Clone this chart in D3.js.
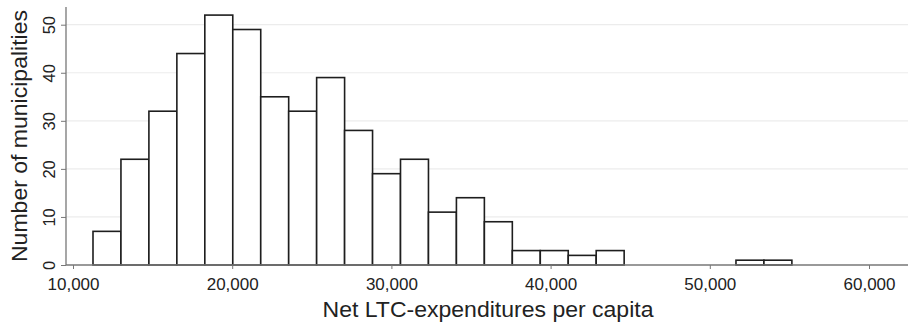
<!DOCTYPE html>
<html>
<head>
<meta charset="utf-8">
<script src="https://cdn.jsdelivr.net/npm/d3@7/dist/d3.min.js"></script>
<style>
  html, body { margin: 0; padding: 0; background: #fff; }
  svg { display: block; font-family: "Liberation Sans", Arial, Helvetica, sans-serif; }
</style>
</head>
<body>
<svg id="chart" width="908" height="326"></svg>
<script>
// ---- data ----
const binStart = 11256;     // lower edge of first bin (NOK per capita)
const binWidth = 1756;      // bin width
const counts = [7, 22, 32, 44, 52, 49, 35, 32, 39, 28, 19, 22, 11, 14, 9, 3, 3, 2, 3, 0, 0, 0, 0, 1, 1];
const xTicks = [10000, 20000, 30000, 40000, 50000, 60000];
const yTicks = [0, 10, 20, 30, 40, 50];
const xTitle = "Net LTC-expenditures per capita";
const yTitle = "Number of municipalities";

// ---- layout ----
const svg = d3.select("#chart");
const x = d3.scaleLinear().domain([10000, 60000]).range([73, 869]);
const y = d3.scaleLinear().domain([0, 50]).range([265, 24.7]);
const plotLeft = 66, plotRight = 908;

const bins = counts.map((c, i) => ({ x0: binStart + i * binWidth, x1: binStart + (i + 1) * binWidth, n: c }));

// gridlines
svg.append("g").selectAll("line").data(yTicks.filter(d => d > 0)).join("line")
  .attr("x1", plotLeft).attr("x2", plotRight)
  .attr("y1", d => y(d)).attr("y2", d => y(d))
  .attr("stroke", "#ececec").attr("stroke-width", 1.2);

// bars
svg.append("g").selectAll("rect").data(bins.filter(b => b.n > 0)).join("rect")
  .attr("x", b => x(b.x0))
  .attr("y", b => y(b.n))
  .attr("width", b => x(b.x1) - x(b.x0))
  .attr("height", b => y(0) - y(b.n))
  .attr("fill", "#fff")
  .attr("stroke", "#1e1e1e")
  .attr("stroke-width", 1.6);

// x axis
const xAxis = d3.axisBottom(x).tickValues(xTicks).tickSize(4).tickSizeOuter(0)
  .tickFormat(d3.format(","));
const gx = svg.append("g").attr("transform", `translate(0,${y(0)})`).call(xAxis);
gx.select(".domain").remove();
gx.selectAll(".tick line").attr("stroke", "#777");
gx.selectAll(".tick text").attr("font-size", 17).attr("fill", "#222")
  .attr("font-family", "Liberation Sans, Arial, sans-serif").attr("dy", "1.05em");
svg.append("line").attr("x1", plotLeft).attr("x2", plotRight)
  .attr("y1", y(0)).attr("y2", y(0)).attr("stroke", "#777").attr("stroke-width", 1.3);

// y axis
const yAxis = d3.axisLeft(y).tickValues(yTicks).tickSize(5).tickSizeOuter(0);
const gy = svg.append("g").attr("transform", `translate(${plotLeft},0)`).call(yAxis);
gy.select(".domain").remove();
gy.selectAll(".tick line").attr("stroke", "#777");
gy.selectAll(".tick text")
  .attr("font-size", 16.5).attr("fill", "#222")
  .attr("font-family", "Liberation Sans, Arial, sans-serif")
  .attr("x", null).attr("dy", null)
  .attr("text-anchor", "middle")
  .attr("transform", "translate(-11,0) rotate(-90)");
svg.append("line").attr("x1", plotLeft).attr("x2", plotLeft)
  .attr("y1", y(0)).attr("y2", y(53.7)).attr("stroke", "#777").attr("stroke-width", 1.3);

// titles
svg.append("text").attr("x", 488).attr("y", 317)
  .attr("text-anchor", "middle").attr("font-size", 21.5).attr("fill", "#222")
  .attr("textLength", 331).attr("lengthAdjust", "spacingAndGlyphs")
  .text(xTitle);
svg.append("text").attr("transform", "translate(27,136) rotate(-90)")
  .attr("text-anchor", "middle").attr("font-size", 21.5).attr("fill", "#222")
  .attr("textLength", 252).attr("lengthAdjust", "spacingAndGlyphs")
  .text(yTitle);
</script>
</body>
</html>
